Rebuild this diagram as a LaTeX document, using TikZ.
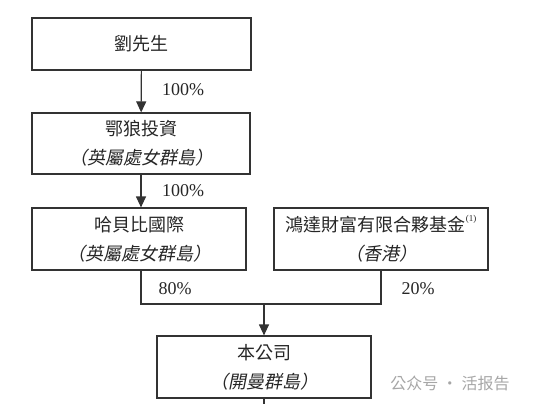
\documentclass[tikz,border=0pt]{standalone}
\usepackage{fontspec}
\setmainfont{Liberation Serif}
\newfontfamily\cjk[AutoFakeSlant=0.2]{Noto Sans CJK TC}
\usetikzlibrary{arrows.meta}
\begin{document}
\begin{tikzpicture}[x=1pt, y=-1pt, line width=1.2pt, draw=black!80,
  entity/.style={draw, minimum width=214pt, minimum height=62pt, align=center, inner sep=0pt,
    font=\cjk\fontsize{18}{29}\selectfont, text=black!85},
  pct/.style={font=\fontsize{18}{20}\selectfont, text=black!85},
  arr/.style={-{Triangle[length=11pt, width=10pt]}}]
\useasboundingbox (0,0) rectangle (540,404);

\node[entity, minimum width=219pt, minimum height=52pt] (liu) at (141.5,44) {劉先生};
\node[entity, minimum width=218pt, minimum height=61pt] (elang) at (141,143.5)
{鄂狼投資\\{\itshape （英屬處女群島）}};
\node[entity] (habibi) at (139,239) {哈貝比國際\\{\itshape （英屬處女群島）}};
\node[entity] (hongda) at (381,239)
{鴻達財富有限合夥基金\raisebox{0.55em}{\rmfamily\fontsize{9}{9}\selectfont(1)}\\{\itshape （香港）}};
\node[entity] (co) at (264,367) {本公司\\{\itshape （開曼群島）}};

\node[pct] (p1) at (183,90) {100\%};
\node[pct] (p2) at (183,191) {100\%};
\node[pct] (p3) at (175,289) {80\%};
\node[pct] (p4) at (418,289) {20\%};

\coordinate (join) at (264,304);
\coordinate (cut) at (264,404);

\draw[arr] (liu) -- (elang);
\draw[arr] (elang) -- (habibi.north -| elang);
\draw (habibi.south -| elang) |- (join) -| (hongda.south);
\draw[arr] (join) -- (co);
\draw (co) -- (cut);

\node[text=black!35, font=\cjk\fontsize{16}{16}\selectfont] (wm) at (450,383) {公众号 · 活报告};
\end{tikzpicture}
\end{document}
